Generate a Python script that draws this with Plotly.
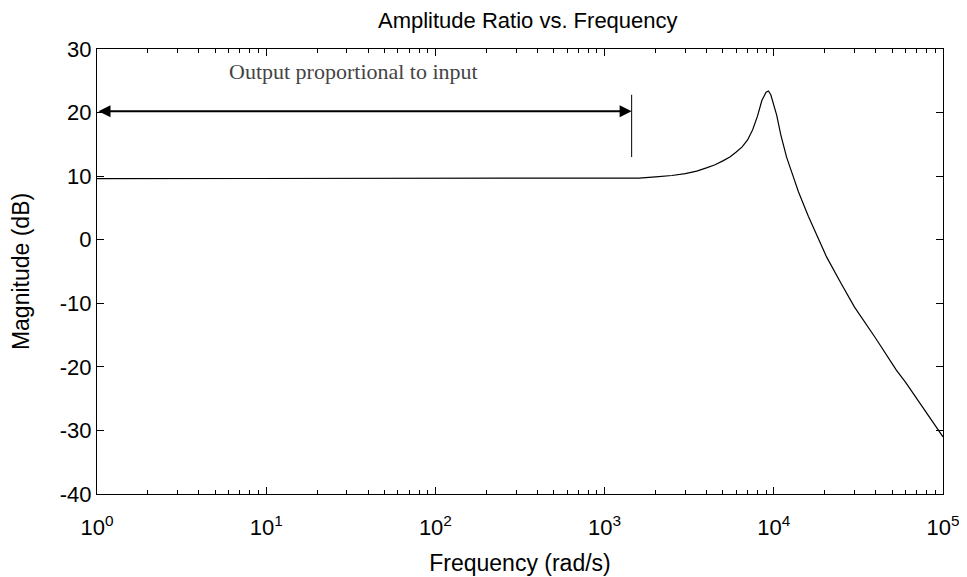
import math
import plotly.graph_objects as go

# Frequency response
freq = [1, 10, 100, 1000, 1600, 2000, 2500, 3000, 3500, 4000, 4500, 5000,
        5500, 6000, 6500, 7000, 7500, 8000, 8500, 9000, 9300, 9600, 10000,
        10400, 11000, 11900, 13000, 14000, 16000, 18000, 20500, 25000, 30000,
        40000, 53000, 60000, 80000, 100000]
mag_db = [9.6, 9.6, 9.6, 9.6, 9.7, 9.9, 10.1, 10.4, 10.8, 11.3, 11.8, 12.4,
          13.0, 13.8, 14.6, 15.7, 17.3, 19.4, 21.9, 23.2, 23.4, 22.8, 21.2,
          19.6, 16.5, 13.0, 10.0, 7.5, 3.7, 0.6, -2.7, -6.9, -10.6,
          -15.5, -20.5, -22.4, -27.3, -31.0]

# Annotation values
arrow_from = 1
arrow_to = 1445
arrow_level = 20.2
marker_x = [1445, 1445]
marker_y = [13.0, 22.8]
note_text = "Output proportional to input"
note_x = 32.6
note_y = 26.4

x_tickvals = [1, 10, 100, 1000, 10000, 100000]
x_ticktext = ["10<sup>0</sup>", "10<sup>1</sup>", "10<sup>2</sup>",
              "10<sup>3</sup>", "10<sup>4</sup>", "10<sup>5</sup>"]
y_tickvals = [-40, -30, -20, -10, 0, 10, 20, 30]
y_ticktext = ["-40", "-30", "-20", "-10", "0", "10", "20", "30"]

minor_vals = [m * 10 ** d for d in range(0, 5) for m in range(2, 10)]

# the page body adds an 8px offset, so the figure is sized to fit the window
W, H = 959, 569

fig = go.Figure()
fig.add_trace(go.Scatter(x=freq, y=mag_db, mode="lines",
                         line=dict(color="black", width=1.2), showlegend=False))
fig.add_trace(go.Scatter(x=marker_x, y=marker_y, mode="lines",
                         line=dict(color="black", width=1), showlegend=False))

fig.add_annotation(x=math.log10(arrow_to), y=arrow_level,
                   ax=math.log10(arrow_from), ay=arrow_level,
                   xref="x", yref="y", axref="x", ayref="y",
                   text="", showarrow=True, arrowhead=2, arrowside="end+start",
                   arrowsize=1.2, arrowwidth=2, arrowcolor="black")
fig.add_annotation(x=math.log10(note_x), y=note_y, xref="x", yref="y",
                   text=note_text, showarrow=False,
                   font=dict(family="Liberation Serif", size=22, color="#444"))

fig.update_layout(
    width=W, height=H,
    margin=dict(l=89, r=24, t=41, b=83),
    paper_bgcolor="white", plot_bgcolor="white",
    title=dict(text="Amplitude Ratio vs. Frequency", x=0.542, xanchor="center",
               y=1 - 12 / H, yanchor="middle",
               font=dict(family="Liberation Sans", size=22, color="black")),
    font=dict(family="Liberation Sans", color="black"),
)
fig.update_xaxes(type="log", range=[0, 5], tickvals=x_tickvals, ticktext=x_ticktext,
                 ticks="inside", ticklen=7, tickcolor="black",
                 showline=True, linecolor="black", linewidth=1, mirror="ticks",
                 showgrid=False, zeroline=False, automargin=False,
                 tickfont=dict(size=22), ticklabelstandoff=14,
                 minor=dict(tickvals=minor_vals, ticks="inside", ticklen=4,
                            tickcolor="black", showgrid=False),
                 title=dict(text="Frequency (rad/s)", font=dict(size=23)))
fig.update_yaxes(range=[-40, 30], tickvals=y_tickvals, ticktext=y_ticktext,
                 ticks="inside", ticklen=7, tickcolor="black",
                 showline=True, linecolor="black", linewidth=1, mirror="ticks",
                 showgrid=False, zeroline=False, automargin=False,
                 tickfont=dict(size=22),
                 title=dict(text="Magnitude (dB)", font=dict(size=23), standoff=23))

fig.write_html("out.html")
